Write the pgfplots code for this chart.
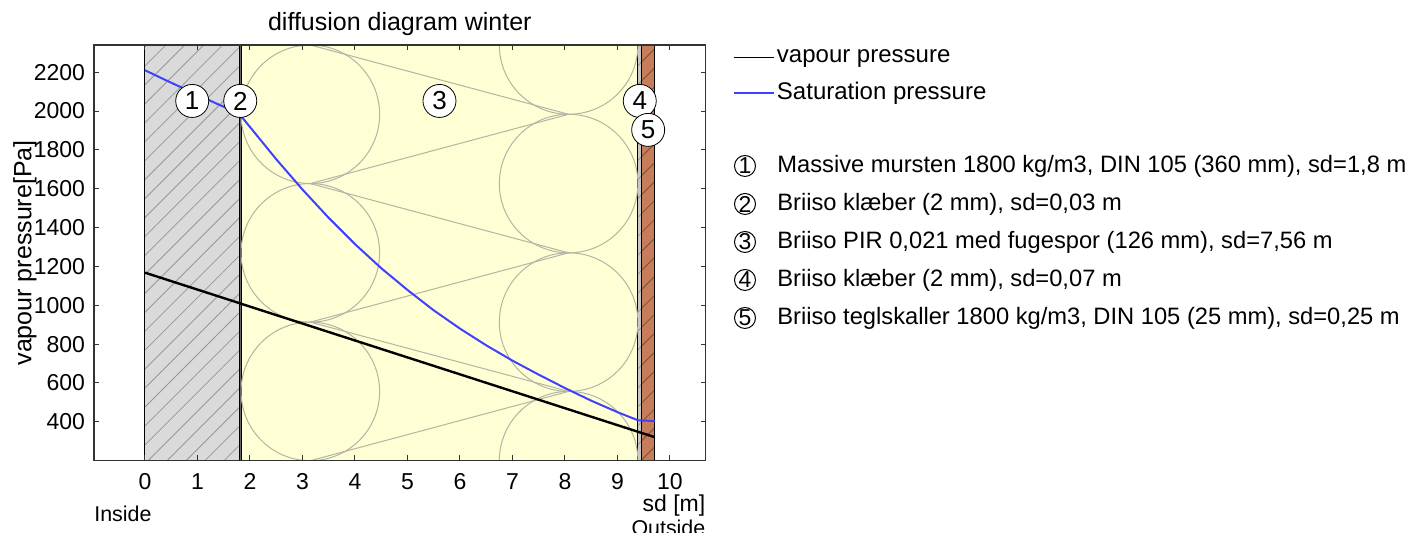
\documentclass[border=0pt]{standalone}
\usepackage{fontspec}
\setmainfont{Liberation Sans}
\usepackage{pgfplots}
\pgfplotsset{compat=1.18}
\usetikzlibrary{patterns.meta}
\definecolor{brickgrey}{RGB}{218,218,218}
\definecolor{hatchgrey}{RGB}{150,150,150}
\definecolor{insyellow}{RGB}{255,255,213}
\definecolor{insline}{RGB}{180,180,165}
\definecolor{brickorange}{RGB}{200,125,90}
\definecolor{hatchdark}{RGB}{120,80,60}
\definecolor{glueg}{RGB}{200,200,200}
\definecolor{satblue}{RGB}{64,64,255}
\begin{document}
\begin{tikzpicture}
\useasboundingbox (-47pt,-36.15pt) rectangle (663.5pt,230.35pt);
\begin{axis}[
  at={(0pt,0pt)}, anchor=south west,
  scale only axis, width=305.85pt, height=207.85pt,
  xmin=-0.971, xmax=10.681, ymin=200, ymax=2340,
  xtick={0,1,...,10}, ytick={400,600,...,2200},
  scaled ticks=false,
  /pgf/number format/assume math mode=true,
  /pgf/number format/1000 sep={},
  tick align=inside, major tick length=2.6pt,
  tick style={black!80, line width=0.5pt},
  axis line style={black!80, line width=0.6pt},
  axis on top,
  no markers,
  ticklabel style={font=\fontsize{11.5}{13}\selectfont},
  xticklabel style={anchor=center, yshift=-10.5pt},
  yticklabel style={anchor=east, xshift=-1pt},
  every axis title/.style={at={(axis description cs:0.5,1)}, anchor=center, yshift=10.5pt, font=\fontsize{12.5}{14}\selectfont},
  title={diffusion diagram winter},
  every axis x label/.style={at={(axis description cs:1,0)}, anchor=east, yshift=-22.5pt, inner sep=0pt, font=\fontsize{11.5}{13}\selectfont},
  xlabel={sd [m]},
  every axis y label/.style={at={(axis description cs:-0.1128,0.5)}, rotate=90, anchor=center, font=\fontsize{12.5}{14}\selectfont},
  ylabel={vapour pressure[Pa]},
  legend style={at={(axis description cs:1.0446,0.995)}, anchor=north west, draw=none, fill=none,
    font=\fontsize{12}{14.4}\selectfont, row sep=6.6pt, inner sep=0pt, nodes={inner sep=1pt}},
  legend cell align=left,
  legend image code/.code={\draw[#1, line width=0.8pt] (0pt,0pt) -- (20pt,0pt);},
]
% layer 1: brick
\addplot[forget plot, fill=brickgrey, draw=black, line width=0.5pt,
  postaction={pattern={Lines[angle=45,distance=6.7pt,line width=0.4pt]}, pattern color=hatchgrey}]
  coordinates {(0,200) (0,2340) (1.8,2340) (1.8,200)} -- cycle;
% layer 2: glue
\addplot[forget plot, fill=black!60, draw=black, line width=0.5pt]
  coordinates {(1.8,200) (1.8,2340) (1.83,2340) (1.83,200)} -- cycle;
% layer 3: PIR
\addplot[forget plot, fill=insyellow, draw=black, line width=0.5pt]
  coordinates {(1.83,200) (1.83,2340) (9.39,2340) (9.39,200)} -- cycle;
% layer 4: glue
\addplot[forget plot, fill=glueg, draw=black, line width=0.5pt,
  postaction={pattern={Lines[angle=45,distance=6.7pt,line width=0.4pt]}, pattern color=hatchgrey}]
  coordinates {(9.39,200) (9.39,2340) (9.46,2340) (9.46,200)} -- cycle;
% layer 5: brick tiles
\addplot[forget plot, fill=brickorange, draw=black, line width=0.5pt,
  postaction={pattern={Lines[angle=45,distance=6.7pt,line width=0.4pt]}, pattern color=hatchdark}]
  coordinates {(9.46,200) (9.46,2340) (9.71,2340) (9.71,200)} -- cycle;
% insulation symbol
\begin{scope}
\clip (axis cs:1.83,200) rectangle (axis cs:9.39,2340);
\draw[insline, line width=0.5pt] (axis cs:3.15,1983.33) ellipse [x radius=1.32, y radius=356.67];
\draw[insline, line width=0.5pt] (axis cs:3.15,1270) ellipse [x radius=1.32, y radius=356.67];
\draw[insline, line width=0.5pt] (axis cs:3.15,556.67) ellipse [x radius=1.32, y radius=356.67];
\draw[insline, line width=0.5pt] (axis cs:8.07,2340) ellipse [x radius=1.32, y radius=356.67];
\draw[insline, line width=0.5pt] (axis cs:8.07,1626.67) ellipse [x radius=1.32, y radius=356.67];
\draw[insline, line width=0.5pt] (axis cs:8.07,913.33) ellipse [x radius=1.32, y radius=356.67];
\draw[insline, line width=0.5pt] (axis cs:8.07,200) ellipse [x radius=1.32, y radius=356.67];
\end{scope}
\addplot[forget plot, insline, line width=0.5pt]
  coordinates {(3.15,2340) (8.07,1983.33) (3.15,1626.67) (8.07,1270) (3.15,913.33) (8.07,556.67) (3.15,200)};
% data
\addplot[black, line width=1.2pt] coordinates {(0,1168) (1.8,1011) (1.83,1008) (9.39,349) (9.46,343) (9.71,321)};
\addlegendentry{vapour pressure}
\addplot[satblue, line width=1pt] coordinates {
  (0,2210) (0.45,2152) (0.9,2096) (1.35,2040) (1.8,1986) (1.83,1974)
  (2.0,1918) (2.5,1752) (3,1596) (3.5,1450) (4,1315) (4.5,1191) (5,1079)
  (5.5,974) (6,880) (6.5,794) (7,715) (7.5,643) (8,574) (8.5,509) (9,450)
  (9.39,408) (9.46,407) (9.71,404)};
\addlegendentry{Saturation pressure}
% layer numbers
\node[circle, draw=black, fill=white, minimum size=16.5pt, inner sep=0pt, font=\fontsize{13}{13}\selectfont] at (axis cs:0.9,2052) {1};
\node[circle, draw=black, fill=white, minimum size=16.5pt, inner sep=0pt, font=\fontsize{13}{13}\selectfont] at (axis cs:1.815,2052) {2};
\node[circle, draw=black, fill=white, minimum size=16.5pt, inner sep=0pt, font=\fontsize{13}{13}\selectfont] at (axis cs:5.61,2052) {3};
\node[circle, draw=black, fill=white, minimum size=16.5pt, inner sep=0pt, font=\fontsize{13}{13}\selectfont] at (axis cs:9.425,2052) {4};
\node[circle, draw=black, fill=white, minimum size=16.5pt, inner sep=0pt, font=\fontsize{13}{13}\selectfont] at (axis cs:9.585,1903) {5};
\end{axis}
% Inside / Outside
\node[anchor=west, inner sep=0pt, font=\fontsize{10.7}{12}\selectfont] at (0pt,-26.5pt) {Inside};
\node[anchor=north east, inner sep=0pt, font=\fontsize{10.7}{12}\selectfont] at (305.85pt,-29.6pt) {Outside};
% layer list
\foreach \y/\n/\t in {147.35/1/{Massive mursten 1800 kg/m3, DIN 105 (360 mm), sd=1,8 m},
                      128.35/2/{Briiso klæber (2 mm), sd=0,03 m},
                      109.35/3/{Briiso PIR 0,021 med fugespor (126 mm), sd=7,56 m},
                      90.35/4/{Briiso klæber (2 mm), sd=0,07 m},
                      71.35/5/{Briiso teglskaller 1800 kg/m3, DIN 105 (25 mm), sd=0,25 m}} {
  \node[circle, draw=black, line width=0.5pt, minimum size=10.5pt, inner sep=0pt, font=\fontsize{11.5}{11.5}\selectfont] at (325.5pt,\y pt) {\n};
  \node[anchor=west, inner sep=0pt, font=\fontsize{11.85}{14.2}\selectfont] at (341.5pt,\y pt) {\t};
}
\end{tikzpicture}
\end{document}
